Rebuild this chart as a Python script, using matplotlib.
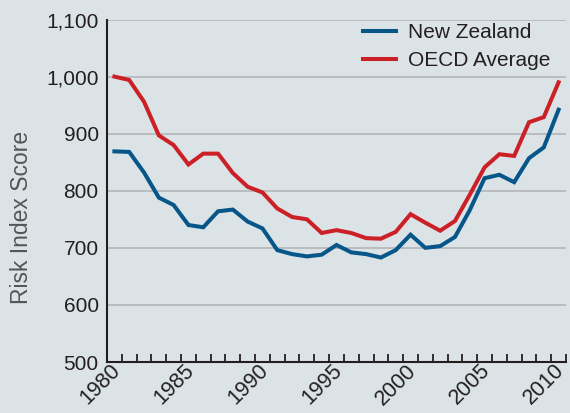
import matplotlib
matplotlib.use('Agg')
import matplotlib.pyplot as plt
from matplotlib.transforms import ScaledTranslation

# Risk index scores, 1980-2010
years = list(range(1980, 2011))
new_zealand = [869, 868, 832, 788, 775, 740, 736, 764, 767, 746, 734, 696, 689, 685, 688, 705,
               692, 689, 683, 696, 723, 700, 703, 719, 766, 822, 828, 815, 857, 876, 942]
oecd_avg = [1000, 994, 956, 897, 880, 846, 865, 865, 831, 807, 797, 769, 754, 750, 726, 731,
            726, 717, 716, 728, 759, 744, 730, 747, 793, 841, 864, 861, 920, 929, 990]
label_years = [1980, 1985, 1990, 1995, 2000, 2005, 2010]
y_ticks = [500, 600, 700, 800, 900, 1000, 1100]

bg = '#dce3e6'
text_col = '#231f20'

plt.rcParams['font.family'] = ['Liberation Sans', 'DejaVu Sans']

fig = plt.figure(figsize=(5.7, 4.13), dpi=100, facecolor=bg)
ax = fig.add_axes([107 / 570, 1 - 362 / 413, (566 - 107) / 570, (362 - 19.5) / 413])
ax.set_facecolor(bg)

ax.plot(years, new_zealand, color='#065689', lw=2.9, label='New Zealand', solid_joinstyle='miter')
ax.plot(years, oecd_avg, color='#cc2027', lw=2.9, label='OECD Average', solid_joinstyle='miter')

ax.set_xlim(1979.5, 2010.5)
ax.set_ylim(500, 1100)

# gridlines
for v in y_ticks[1:]:
    ax.axhline(v, color='#b9bcbe', lw=1.4, zorder=0)

# year-boundary ticks, labels at each fifth year
tick_pos = [1979.5 + k for k in range(32)]
tick_lab = [''] * 32
for y in label_years:
    tick_lab[y - 1979] = str(y)
ax.set_xticks(tick_pos)
ax.set_xticklabels(tick_lab, rotation=45, ha='right', va='center', rotation_mode='anchor',
                   fontsize=15.5, color=text_col)
ax.tick_params(axis='x', direction='in', length=6, width=1.3, color=text_col, pad=4)
shift = ScaledTranslation(-0.05, 0, fig.dpi_scale_trans)
for lab in ax.get_xticklabels():
    lab.set_transform(lab.get_transform() + shift)

ax.set_yticks(y_ticks)
ax.set_yticklabels([f'{v:,}' for v in y_ticks], fontsize=15, color=text_col)
ax.tick_params(axis='y', length=0, pad=6)

for s in ['top', 'right']:
    ax.spines[s].set_visible(False)
for s in ['left', 'bottom']:
    ax.spines[s].set_color(text_col)
    ax.spines[s].set_linewidth(1.5)

fig.text(22 / 570, 1 - 217.5 / 413, 'Risk Index Score', rotation=90, ha='center', va='center',
         fontsize=16.5, color='#555555')

leg = ax.legend(loc='upper left', bbox_to_anchor=(363 / 570, 1 - 23 / 413),
                bbox_transform=fig.transFigure, frameon=False, fontsize=15,
                handlelength=1.6, handletextpad=0.55, labelspacing=0.45, borderpad=0,
                borderaxespad=0)
for t in leg.get_texts():
    t.set_color(text_col)

fig.savefig('out.png', dpi=100, facecolor=bg)
